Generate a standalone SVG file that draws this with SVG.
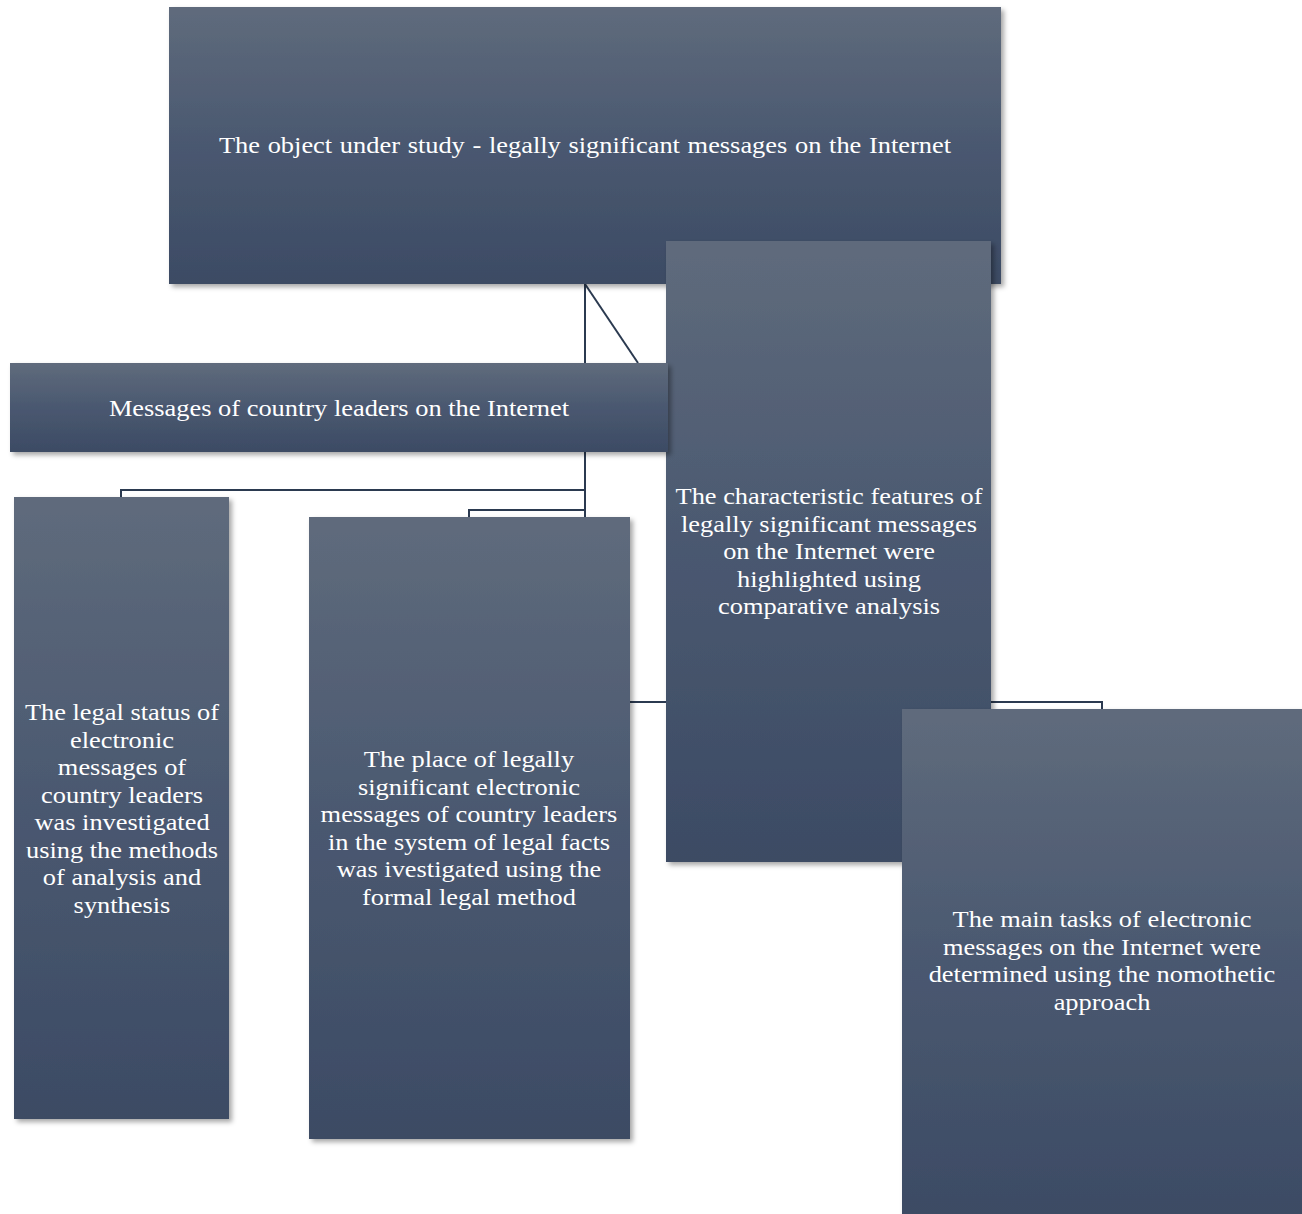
<svg xmlns="http://www.w3.org/2000/svg" width="1302" height="1214" viewBox="0 0 1302 1214">
<defs>
<linearGradient id="g" x1="0" y1="0" x2="0" y2="1">
<stop offset="0" stop-color="#5f6b7c"/>
<stop offset="0.5" stop-color="#4a5870"/>
<stop offset="1" stop-color="#3c4b64"/>
</linearGradient>
<filter id="sh" x="-5%" y="-5%" width="115%" height="115%">
<feDropShadow dx="3" dy="3" stdDeviation="2.5" flood-color="#000" flood-opacity="0.35"/>
</filter>
</defs>
<style>
.box{fill:url(#g);filter:url(#sh);}
.t{font-family:"Liberation Serif","Times New Roman",serif;font-size:24px;fill:#ffffff;text-anchor:middle;}
.c{fill:none;stroke:#2b3a50;stroke-width:2;}
</style>
<rect width="1302" height="1214" fill="#ffffff"/>
<g id="connectors">
<path class="c" d="M585 284 V702 H1102 V709"/>
<path class="c" d="M585 284 L638 363"/>
<path class="c" d="M585 490 H121 V497"/>
<path class="c" d="M585 510 H469 V517"/>
</g>
<g id="n-object">
<rect class="box" x="169" y="7" width="832" height="277"/>
<g transform="translate(585 0) scale(1.1 1)">
<text class="t" x="0" y="153" word-spacing="1">The object under study - legally significant messages on the Internet</text>
</g>
</g>
<g id="n-characteristic">
<rect class="box" x="666" y="241" width="325" height="621"/>
<g transform="translate(829 0) scale(1.1 1)">
<text class="t" x="0" y="504">The characteristic features of</text>
<text class="t" x="0" y="532">legally significant messages</text>
<text class="t" x="0" y="559">on the Internet were</text>
<text class="t" x="0" y="587">highlighted using</text>
<text class="t" x="0" y="614">comparative analysis</text>
</g>
</g>
<g id="n-messages">
<rect class="box" x="10" y="363" width="658" height="89"/>
<g transform="translate(339 0) scale(1.1 1)">
<text class="t" x="0" y="416">Messages of country leaders on the Internet</text>
</g>
</g>
<g id="n-legal-status">
<rect class="box" x="14" y="497" width="215" height="622"/>
<g transform="translate(122 0) scale(1.1 1)">
<text class="t" x="0" y="720">The legal status of</text>
<text class="t" x="0" y="748">electronic</text>
<text class="t" x="0" y="775">messages of</text>
<text class="t" x="0" y="803">country leaders</text>
<text class="t" x="0" y="830">was investigated</text>
<text class="t" x="0" y="858">using the methods</text>
<text class="t" x="0" y="885">of analysis and</text>
<text class="t" x="0" y="913">synthesis</text>
</g>
</g>
<g id="n-place">
<rect class="box" x="309" y="517" width="321" height="622"/>
<g transform="translate(469 0) scale(1.1 1)">
<text class="t" x="0" y="767">The place of legally</text>
<text class="t" x="0" y="795">significant electronic</text>
<text class="t" x="0" y="822">messages of country leaders</text>
<text class="t" x="0" y="850">in the system of legal facts</text>
<text class="t" x="0" y="877">was ivestigated using the</text>
<text class="t" x="0" y="905">formal legal method</text>
</g>
</g>
<g id="n-main-tasks">
<rect class="box" x="902" y="709" width="405" height="510"/>
<g transform="translate(1102 0) scale(1.1 1)">
<text class="t" x="0" y="927">The main tasks of electronic</text>
<text class="t" x="0" y="955">messages on the Internet were</text>
<text class="t" x="0" y="982">determined using the nomothetic</text>
<text class="t" x="0" y="1010">approach</text>
</g>
</g>
</svg>
